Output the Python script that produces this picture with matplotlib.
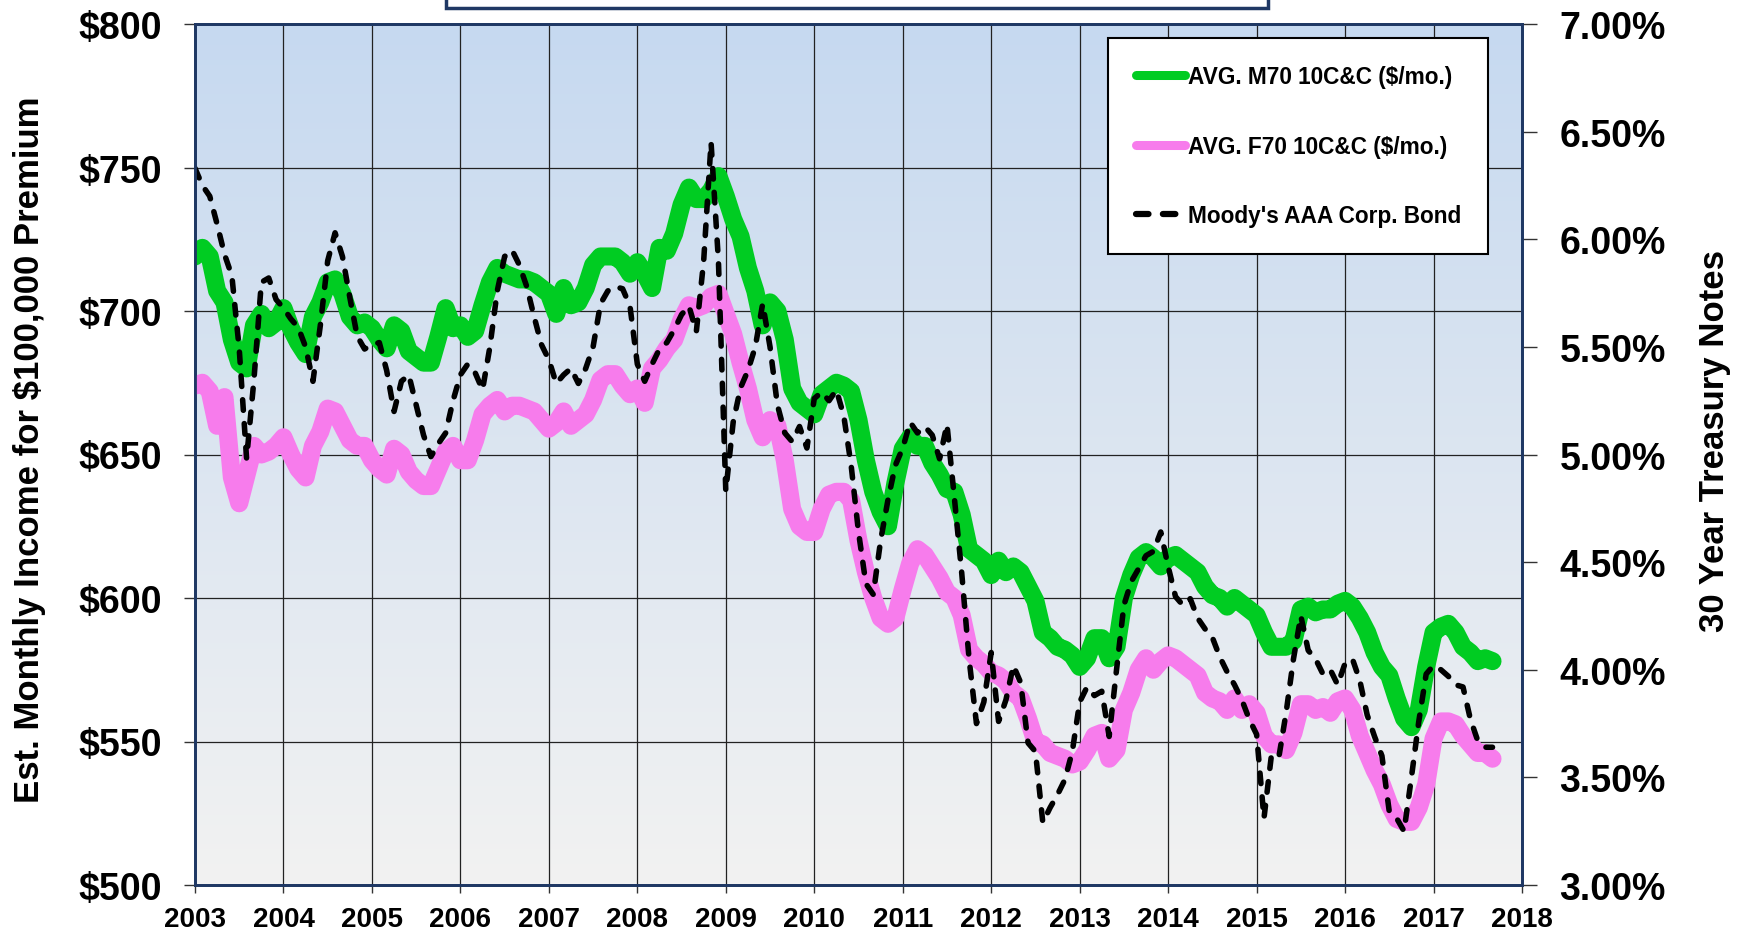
import numpy as np
import matplotlib
matplotlib.use("Agg")
import matplotlib.pyplot as plt
from matplotlib.lines import Line2D
from matplotlib.patches import Rectangle

plt.rcParams['font.family'] = ['Liberation Sans', 'DejaVu Sans']
plt.rcParams['font.weight'] = 'bold'

# monthly readings, Jan 2003 .. Sep 2017
m70_income = [
    719, 722, 719, 707, 703, 690, 682, 680, 695, 699, 694, 696,
    701, 694, 689, 685, 698, 703, 710, 711, 706, 698, 695, 696,
    694, 690, 687, 695, 693, 686, 684, 682, 682, 691, 701, 694,
    695, 691, 693, 702, 710, 715, 713, 712, 711, 711, 710, 708,
    706, 699, 708, 702, 703, 708, 716, 719, 719, 719, 717, 713,
    717, 713, 708, 722, 721, 727, 737, 743, 739, 739, 742, 747,
    740, 732, 726, 715, 707, 695, 703, 700, 690, 673, 668, 666,
    664, 671, 673, 675, 674, 672, 662, 648, 637, 630, 625, 640,
    652, 656, 653, 653, 647, 643, 638, 637, 629, 617, 615, 613,
    608, 613, 609, 611, 609, 604, 599, 588, 586, 583, 582, 580,
    576, 579, 586, 586, 579, 583, 600, 608, 614, 616, 614, 611,
    614, 615, 613, 611, 609, 604, 601, 600, 597, 600, 598, 596,
    594, 588, 583, 583, 583, 585, 596, 597, 595, 596, 596, 598,
    599, 597, 593, 588, 581, 576, 573, 565, 558, 555, 561, 576,
    588, 590, 591, 588, 583, 581, 578, 579, 578,
]
f70_income = [
    674, 675, 672, 660, 670, 642, 633, 643, 653, 650, 651, 653,
    656, 650, 645, 642, 653, 658, 666, 665, 660, 655, 653, 653,
    648, 645, 643, 652, 650, 644, 641, 639, 639, 645, 651, 653,
    648, 648, 655, 664, 667, 669, 665, 667, 667, 666, 665, 662,
    659, 661, 665, 660, 662, 664, 669, 676, 678, 678, 674, 671,
    673, 668, 680, 683, 687, 690, 697, 702, 701, 702, 705, 706,
    699, 692, 682, 673, 662, 656, 662, 660, 648, 631, 625, 623,
    623, 631, 636, 637, 637, 634, 620, 609, 600, 593, 591, 593,
    603, 612, 617, 615, 611, 607, 602, 600, 594, 582, 579, 577,
    574, 573, 571, 567, 565, 558, 550, 549, 546, 545, 544, 542,
    543, 547, 552, 553, 544, 547, 561, 567, 575, 579, 575, 578,
    580, 579, 577, 575, 573, 567, 565, 564, 561, 565, 561, 563,
    560, 552, 549, 549, 547, 553, 563, 563, 561, 562, 560, 564,
    565, 561, 552, 546, 540, 535, 528, 523, 522, 522, 527, 535,
    551, 557, 557, 556, 552, 549, 546, 546, 544,
]
aaa_bond = [
    6.33, 6.25, 6.20, 6.07, 5.93, 5.83, 5.49, 4.98, 5.35, 5.80, 5.82, 5.72,
    5.68, 5.63, 5.59, 5.50, 5.34, 5.60, 5.90, 6.03, 5.92, 5.73, 5.55, 5.49,
    5.51, 5.52, 5.39, 5.20, 5.34, 5.37, 5.23, 5.09, 4.99, 5.05, 5.10, 5.25,
    5.37, 5.42, 5.38, 5.30, 5.50, 5.76, 5.92, 5.95, 5.88, 5.78, 5.64, 5.51,
    5.44, 5.33, 5.37, 5.40, 5.33, 5.40, 5.50, 5.70, 5.76, 5.78, 5.77, 5.69,
    5.42, 5.34, 5.42, 5.49, 5.52, 5.58, 5.65, 5.69, 5.57, 5.90, 6.45, 5.90,
    4.83, 5.15, 5.31, 5.39, 5.50, 5.70, 5.50, 5.23, 5.10, 5.06, 5.13, 5.03,
    5.26, 5.29, 5.25, 5.30, 5.18, 4.95, 4.64, 4.40, 4.35, 4.60, 4.79, 4.95,
    5.03, 5.15, 5.10, 5.13, 5.09, 4.98, 5.14, 4.80, 4.45, 4.05, 3.75, 3.85,
    4.08, 3.76, 3.86, 4.02, 3.94, 3.66, 3.62, 3.29, 3.36, 3.42, 3.49, 3.62,
    3.85, 3.92, 3.88, 3.90, 3.69, 4.00, 4.30, 4.41, 4.47, 4.53, 4.55, 4.64,
    4.48, 4.34, 4.30, 4.33, 4.24, 4.19, 4.15, 4.06, 3.99, 3.93, 3.86, 3.77,
    3.70, 3.31, 3.60, 3.59, 3.80, 4.05, 4.25, 4.09, 4.05, 3.98, 4.00, 3.93,
    4.03, 4.05, 3.95, 3.79, 3.69, 3.60, 3.34, 3.31, 3.25, 3.50, 3.76, 3.98,
    4.02, 4.00, 3.97, 3.93, 3.92, 3.77, 3.67, 3.64, 3.64,
]
years = 2003 + np.arange(len(m70_income)) / 12.0

year_ticks = list(range(2003, 2019))
income_ticks = [500, 550, 600, 650, 700, 750, 800]
rate_ticks = [3.0, 3.5, 4.0, 4.5, 5.0, 5.5, 6.0, 6.5, 7.0]

GREEN = '#00cc22'
PINK = '#f77cec'
NAVY = '#1f3864'

fig = plt.figure(figsize=(17.42, 9.37), dpi=100)
ax = fig.add_axes([195 / 1742, 1 - 886 / 937, 1327 / 1742, 861 / 937])

# background gradient, light blue at top fading to light grey
top = np.array([198, 217, 240]) / 255
bot = np.array([242, 242, 242]) / 255
t = np.linspace(0, 1, 256)[:, None, None]
grad = top * (1 - t) + bot * t
ax.imshow(grad, extent=[0, 1, 0, 1], transform=ax.transAxes,
          aspect='auto', zorder=-5, interpolation='bilinear')

ax.plot(years, f70_income, color=PINK, lw=13, solid_capstyle='round',
        solid_joinstyle='round', zorder=3)
ax.plot(years, m70_income, color=GREEN, lw=13, solid_capstyle='round',
        solid_joinstyle='round', zorder=4)

ax.set_xlim(2003, 2018)
ax.set_ylim(500, 800)
ax.set_xticks(year_ticks)
ax.set_xticklabels([str(y) for y in year_ticks], fontsize=20, fontweight='bold')
ax.set_yticks(income_ticks)
ax.set_yticklabels(['$%d' % v for v in income_ticks], fontsize=27, fontweight='bold')
ax.grid(True, color='#222222', lw=0.9)
ax.set_axisbelow(True)
ax.tick_params(axis='y', direction='out', length=8, width=1, pad=16, color='#333333')
ax.tick_params(axis='x', direction='out', length=6, width=1, pad=9, color='#333333')

ax2 = ax.twinx()
ax2.plot(years, aaa_bond, color='black', lw=4, dashes=(1.9, 2.4),
         dash_capstyle='round', solid_joinstyle='round')
ax2.set_ylim(3.0, 7.0)
ax2.set_yticks(rate_ticks)
ax2.set_yticklabels(['%.2f%%' % v for v in rate_ticks], fontsize=27, fontweight='bold')
ax2.tick_params(axis='y', direction='out', length=11, width=1, pad=16, color='#333333')

for a in (ax, ax2):
    for s in a.spines.values():
        s.set_color(NAVY)
        s.set_linewidth(2)

fig.text(30 / 1742, 1 - 450 / 937, 'Est. Monthly Income for $100,000 Premium',
         rotation=90, ha='center', va='center', fontsize=25, fontweight='bold')
fig.text(1714 / 1742, 1 - 441 / 937, '30 Year Treasury Notes',
         rotation=90, ha='center', va='center', fontsize=25, fontweight='bold')

handles = [
    Line2D([], [], color=GREEN, lw=6.5, solid_capstyle='round'),
    Line2D([], [], color=PINK, lw=6.5, solid_capstyle='round'),
    Line2D([], [], color='black', lw=4.5, dashes=(2.0, 2.3), dash_capstyle='round'),
]
labels = ['AVG. M70 10C&C ($/mo.)', 'AVG. F70 10C&C ($/mo.)', "Moody's AAA Corp. Bond"]
leg = ax2.legend(handles, labels, loc='upper right',
                 bbox_to_anchor=(1488 / 1742, 1 - 39 / 937),
                 bbox_transform=fig.transFigure, borderaxespad=0,
                 prop={'size': 16.3, 'weight': 'bold'}, fancybox=False,
                 framealpha=1, edgecolor='black', borderpad=1.2,
                 labelspacing=2.05, handlelength=2.2, handletextpad=0.1)
leg.get_frame().set_linewidth(1.5)
leg.set_zorder(10)

# header box cut off at the top edge of the image
fig.patches.append(Rectangle((446 / 1742, 1 - 8.5 / 937), 822 / 1742, 60 / 937,
                             transform=fig.transFigure, facecolor='white',
                             edgecolor=NAVY, lw=2.5))

fig.savefig('out.png', dpi=100)
